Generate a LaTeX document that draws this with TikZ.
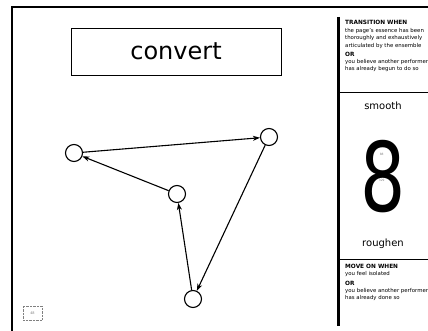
\documentclass[tikz,border=0pt]{standalone}
\usepackage{fontspec}
\setmainfont{DejaVu Sans}
\usetikzlibrary{arrows.meta}

\tikzstyle{vertex}=[circle, draw, line width=1.1pt, minimum size=17pt, inner sep=0pt]
\tikzstyle{arrow}=[line width=1.1pt, -{Stealth[length=7pt, width=5pt, inset=2pt]}]
\tikzstyle{small}=[anchor=west, inner sep=0pt, font=\fontsize{5.4}{6}\selectfont]
\tikzstyle{heading}=[anchor=west, inner sep=0pt, font=\bfseries\fontsize{5.8}{6}\selectfont]
\tikzstyle{faint}=[gray, inner sep=0pt, font=\fontsize{3}{3}\selectfont]

\begin{document}
\begin{tikzpicture}[x=1pt, y=-1pt]
      \useasboundingbox (0,0) rectangle (428,331);
      \draw[line width=2.5pt] (12,331) -- (12,7) -- (428,7);

      \node[draw, minimum width=210pt, minimum height=47pt, inner sep=0pt,
            font=\fontsize{24}{28}\selectfont] (title) at (176,51.5) {convert};

      \node[vertex] (a) at (74, 153) {};
      \node[vertex] (b) at (269, 137) {};
      \node[vertex] (c) at (177, 194) {};
      \node[vertex] (d) at (193, 299) {};

      \draw[arrow] (a) to (b);
      \draw[arrow] (b) to (d);
      \draw[arrow] (d) to (c);
      \draw[arrow] (c) to (a);

      \node[draw, gray, densely dotted, minimum width=19pt, minimum height=14pt,
            inner sep=0pt, font=\fontsize{3.5}{4}\selectfont] (page) at (32.5,313) {48};

      % right panel
      \draw[line width=3pt] (338,17) -- (338,326);
      \draw[thick] (338,92) -- (428,92);
      \draw[thick] (338,259) -- (428,259);

      \node[heading] (when) at (345,22.5) {TRANSITION WHEN};
      \node[small] (t1) at (345,31) {the page's essence has been};
      \node[small] (t2) at (345,38.5) {thoroughly and exhaustively};
      \node[small] (t3) at (345,46) {articulated by the ensemble};
      \node[heading] (or1) at (345,54) {OR};
      \node[small] (t4) at (345,62) {you believe another performer};
      \node[small] (t5) at (345,69.5) {has already begun to do so};

      \node[font=\fontsize{10}{12}\selectfont] (smooth) at (383,106) {smooth};
      \node[xscale=0.74, inner sep=0pt, text height=70pt, text depth=0pt,
            font=\fontsize{96}{96}\selectfont] (eight) at (383.5,176.5) {8};
      \node[faint] (top) at (381.7,154) {88};
      \node[faint] (bottom) at (381.7,180.5) {329};
      \node[font=\fontsize{10}{12}\selectfont] (roughen) at (383,244) {roughen};

      \node[heading] (move) at (345,266) {MOVE ON WHEN};
      \node[small] (m1) at (345,274.5) {you feel isolated};
      \node[heading] (or2) at (345,283) {OR};
      \node[small] (m2) at (345,291) {you believe another performer};
      \node[small] (m3) at (345,298.5) {has already done so};
    \end{tikzpicture}
\end{document}
